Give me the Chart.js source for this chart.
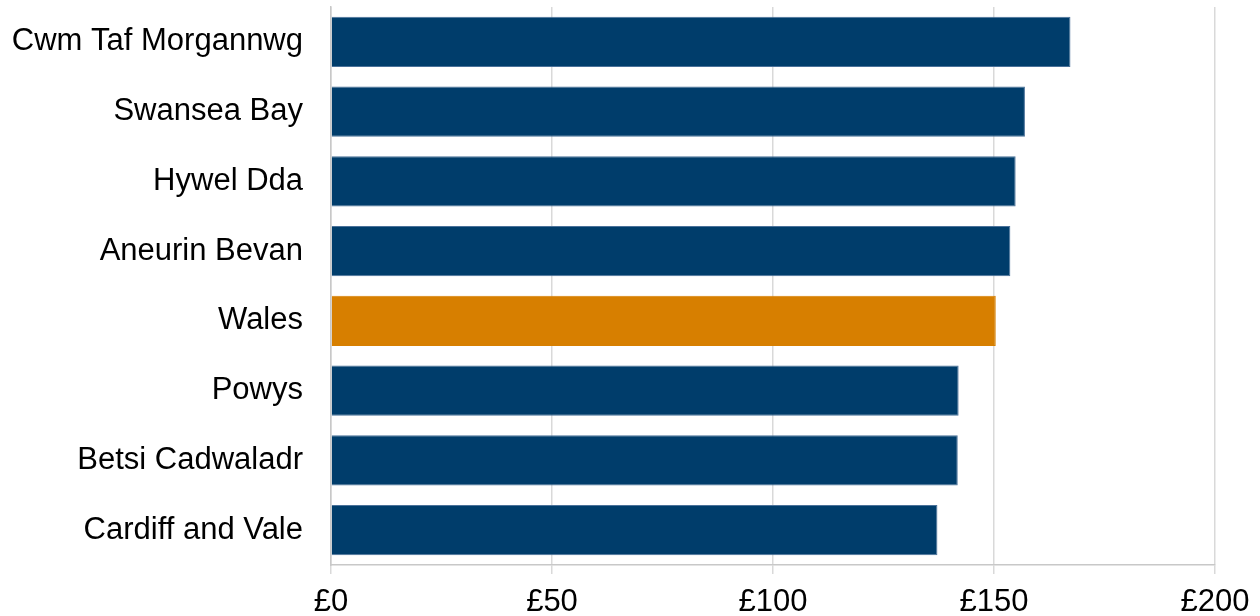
<!DOCTYPE html>
<html>
<head>
<meta charset="utf-8">
<script src="https://cdn.jsdelivr.net/npm/chart.js@4/dist/chart.umd.min.js"></script>
<style>
  html, body { margin: 0; padding: 0; background: #fff; }
  #wrap { width: 1260px; height: 616px; }
</style>
</head>
<body>
<div id="wrap"><canvas id="spendChart"></canvas></div>
<script>
// health boards, spend per head (£)
const boards = ['Cwm Taf Morgannwg', 'Swansea Bay', 'Hywel Dda', 'Aneurin Bevan', 'Wales', 'Powys', 'Betsi Cadwaladr', 'Cardiff and Vale'];
const spend = [167.3, 157.0, 154.9, 153.7, 150.4, 142.0, 141.8, 137.2];
const xTicks = [0, 50, 100, 150, 200];

const navy = '#003d6b';
const orange = '#d77f00';

Chart.defaults.font.family = '"Liberation Sans", Arial, sans-serif';
Chart.defaults.color = '#000';

const ctx = document.getElementById('spendChart').getContext('2d');
const spendChart = new Chart(ctx, {
  type: 'bar',
  data: {
    labels: boards,
    datasets: [{
      data: spend,
      backgroundColor: boards.map(b => b === 'Wales' ? orange : navy),
      borderColor: boards.map(b => b === 'Wales' ? orange : '#4a7199'),
      borderWidth: 1,
      categoryPercentage: 1,
      barPercentage: 0.72
    }]
  },
  options: {
    indexAxis: 'y',
    responsive: true,
    maintainAspectRatio: false,
    animation: false,
    layout: {
      padding: { top: 7, right: 45, left: 0, bottom: 0 }
    },
    scales: {
      x: {
        min: 0,
        max: 200,
        afterBuildTicks: (scale) => {
          scale.ticks = xTicks.map(v => ({ value: v }));
        },
        afterFit: (scale) => {
          scale.height = 51;
          scale.paddingLeft = 0;
          scale.paddingRight = 0;
        },
        grid: {
          color: '#d9d9d9',
          lineWidth: 1.5,
          tickLength: 9,
          drawTicks: true
        },
        border: { display: true, color: '#c8c8c8', width: 1.5 },
        ticks: {
          padding: 10,
          font: { size: 31 },
          callback: (v) => '£' + v
        }
      },
      y: {
        afterFit: (scale) => {
          scale.width = 331;
          scale.paddingTop = 0;
          scale.paddingBottom = 0;
        },
        grid: { display: false, drawTicks: false },
        border: { display: true, color: '#c8c8c8', width: 1.5 },
        ticks: {
          padding: 28,
          font: { size: 31 }
        }
      }
    },
    plugins: {
      legend: { display: false },
      tooltip: { enabled: false }
    }
  }
});
</script>
</body>
</html>
